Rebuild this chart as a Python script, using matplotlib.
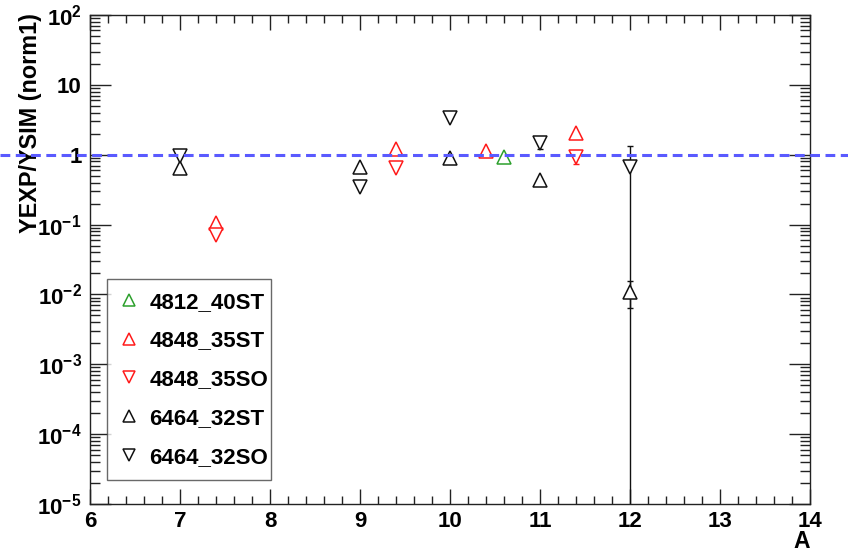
import matplotlib
matplotlib.use("Agg")
import matplotlib.pyplot as plt
from matplotlib.ticker import MultipleLocator, FixedLocator, FuncFormatter, NullFormatter
import numpy as np

plt.rcParams['font.family'] = ['Liberation Sans', 'DejaVu Sans']
plt.rcParams['font.weight'] = 'bold'
plt.rcParams['mathtext.fontset'] = 'custom'
plt.rcParams['mathtext.rm'] = 'Liberation Sans:bold'
plt.rcParams['mathtext.bf'] = 'Liberation Sans:bold'
plt.rcParams['mathtext.it'] = 'Liberation Sans:bold'

# ---- data: YEXP/YSIM ratios per mass number A ----
a_4812_40ST = [10.6]
r_4812_40ST = [0.918]

a_4848_35ST = [7.4, 9.4, 10.4, 11.4]
r_4848_35ST = [0.105, 1.20, 1.12, 2.05]

a_4848_35SO = [7.4, 9.4, 11.4]
r_4848_35SO = [0.071, 0.638, 0.937]
e_4848_35SO = [0.0, 0.0, 0.2]

a_6464_32ST = [7, 9, 10, 11, 12]
r_6464_32ST = [0.635, 0.674, 0.887, 0.43, 0.0109]
e_6464_32ST = [0.0, 0.0, 0.0, 0.0, 0.0045]

a_6464_32SO = [7, 9, 10, 11, 12]
r_6464_32SO = [0.96, 0.348, 3.32, 1.47, 0.663]
e_6464_32SO = [0.0, 0.0, 0.0, 0.28, 0.69]

series = [
    ("4812_40ST", a_4812_40ST, r_4812_40ST, None, '^', '#2ca02c'),
    ("4848_35ST", a_4848_35ST, r_4848_35ST, None, '^', '#ff1a1a'),
    ("4848_35SO", a_4848_35SO, r_4848_35SO, e_4848_35SO, 'v', '#ff1a1a'),
    ("6464_32ST", a_6464_32ST, r_6464_32ST, e_6464_32ST, '^', '#111111'),
    ("6464_32SO", a_6464_32SO, r_6464_32SO, e_6464_32SO, 'v', '#111111'),
]

fig = plt.figure(figsize=(8.48, 5.54), dpi=100)
ax = fig.add_axes([90/848, 50/554, 720/848, 489/554])
ax.set_yscale('log')
ax.set_xlim(6, 14)
ax.set_ylim(1e-5, 1e2)

for label, a, r, e, mk, col in series:
    if e is not None:
        a_e = [x for x, v in zip(a, e) if v > 0]
        r_e = [y for y, v in zip(r, e) if v > 0]
        e_e = [v for v in e if v > 0]
        ax.errorbar(a_e, r_e, yerr=e_e, fmt='none', ecolor=col, elinewidth=1.0,
                    capsize=2.5, capthick=1.0, zorder=2)
    ax.plot(a, r, linestyle='none', marker=mk, markersize=9.5,
            markerfacecolor='white', markeredgecolor=col, markeredgewidth=1.1,
            label=label, zorder=3)

# reference line at ratio = 1, running across the whole canvas
ax.axhline(1.0, xmin=-0.125, xmax=1.06, color='#5a5aff', linestyle=(0, (3.2, 1.8)),
           linewidth=2.2, clip_on=False, zorder=4)

def ylab(v, pos):
    n = int(round(np.log10(v)))
    if n == 0:
        return '1'
    if n == 1:
        return '10'
    return r'$10^{%d}$' % n

decades = np.arange(-5, 3)
ax.xaxis.set_major_locator(MultipleLocator(1))
ax.xaxis.set_minor_locator(MultipleLocator(0.2))
ax.yaxis.set_major_locator(FixedLocator(10.0 ** decades))
ax.yaxis.set_minor_locator(FixedLocator([m * 10.0 ** d for d in decades[:-1] for m in range(2, 10)]))
ax.yaxis.set_major_formatter(FuncFormatter(ylab))
ax.yaxis.set_minor_formatter(NullFormatter())

ax.tick_params(axis='both', which='both', direction='in', top=True, right=True,
               labelsize=16, width=1.0, color='#222222')
ax.tick_params(axis='x', which='major', length=11, pad=5)
ax.tick_params(axis='x', which='minor', length=5.5)
ax.tick_params(axis='y', which='major', length=15, pad=6)
ax.tick_params(axis='y', which='minor', length=7)
for lab in ax.get_xticklabels() + ax.get_yticklabels():
    lab.set_fontweight('bold')

for s in ax.spines.values():
    s.set_linewidth(1.0)
    s.set_color('#222222')

ax.set_ylabel('YEXP/YSIM (norm1)', fontsize=16.8, fontweight='bold', loc='top')
ax.yaxis.set_label_coords(-48/720, 1.0 + 2/489)
ax.set_xlabel('A', fontsize=16.5, fontweight='bold', loc='right')
ax.xaxis.set_label_coords(1.0, -26/489)

leg = ax.legend(loc='lower left', bbox_to_anchor=(17/720, 24/489, 164/720, 202/489),
                mode='expand', fontsize=16, frameon=True, fancybox=False,
                handlelength=0.9, handletextpad=0.45, labelspacing=0.8,
                borderpad=0.55, borderaxespad=0.0, markerscale=0.95)
leg.get_frame().set_edgecolor('#444444')
leg.get_frame().set_linewidth(1.0)
for t in leg.get_texts():
    t.set_fontweight('bold')

fig.savefig('out.png', dpi=100)
